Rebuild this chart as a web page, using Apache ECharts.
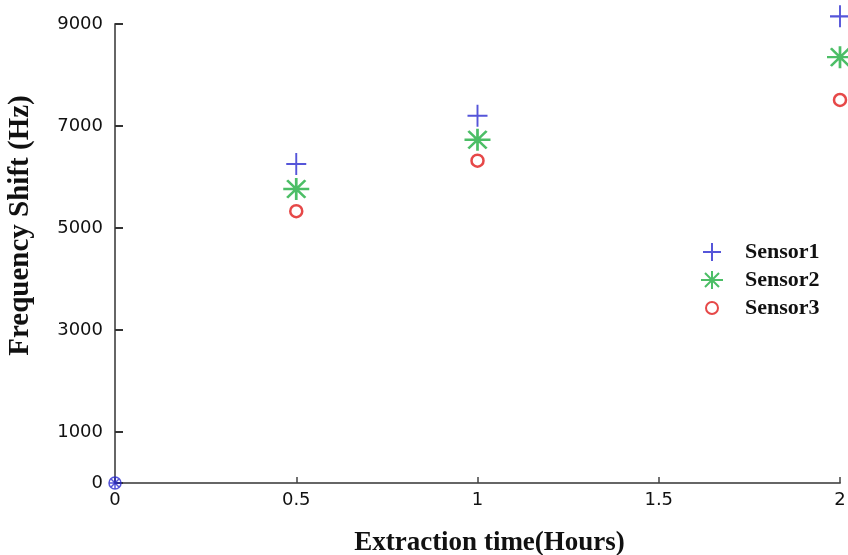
<!DOCTYPE html>
<html>
<head>
<meta charset="utf-8">
<script src="https://cdn.jsdelivr.net/npm/echarts@6/dist/echarts.min.js"></script>
<style>html,body{margin:0;padding:0;background:#fff}#c{width:848px;height:555px}</style>
</head>
<body>
<div id="c"></div>
<script>
var xValues = [0.5, 1, 2];
var sensor1 = [6255, 7200, 9150];
var sensor2 = [5765, 6730, 8350];
var sensor3 = [5330, 6320, 7510];
var origin = [[0, 0]];
var xTicks = [0, 0.5, 1, 1.5, 2];
var yTicks = [0, 1000, 3000, 5000, 7000, 9000];
var seriesNames = ['Sensor1', 'Sensor2', 'Sensor3'];

var PLUS = 'path://M10,0L10,20M0,10L20,10';
var AST = 'path://M0,10L20,10M10,0L10,20M3,2L17,18M3,18L17,2';
var CIRC = 'circle';
var L_PLUS = 'path://M0,0M24,20M12,1L12,19M3,10L21,10';
var L_AST = 'path://M0,0M24,20M1,10L23,10M12,1L12,19M5,3L19,17M5,17L19,3';
var L_CIRC = 'path://M0,0M24,20M18,10A6,6,0,1,1,6,10A6,6,0,1,1,18,10Z';
var BLUE = '#2b2bd0', GREEN = '#1fae40', RED = '#e01a1a';

function pts(v){ return xValues.map(function(x,i){ return [x, v[i]]; }); }

var chart = echarts.init(document.getElementById('c'));
chart.setOption({
  animation: false,
  backgroundColor: '#fff',
  grid: { left: 115, right: 8, top: 24, bottom: 72, containLabel: false, outerBoundsMode: 'none' },
  xAxis: {
    type: 'value', min: 0, max: 2, interval: 0.5,
    name: 'Extraction time(Hours)', nameLocation: 'middle', nameGap: 47,
    nameTextStyle: { fontFamily: 'Liberation Serif', fontWeight: 'bold', fontSize: 27, color: '#111', padding: [0,0,0,24] },
    axisLine: { show: true, lineStyle: { color: '#666', width: 2 } },
    axisTick: { show: true, inside: true, length: 6, lineStyle: { color: '#444', width: 1.5 }, customValues: xTicks },
    axisLabel: { color: '#111', fontFamily: 'DejaVu Sans', fontSize: 18, margin: 8, customValues: xTicks,
      formatter: function(v){ return String(v); } },
    splitLine: { show: false }
  },
  yAxis: {
    type: 'value', min: 0, max: 9000, interval: 1000,
    name: 'Frequency Shift (Hz)', nameLocation: 'middle', nameGap: 80, nameRotate: 90,
    nameTextStyle: { fontFamily: 'Liberation Serif', fontWeight: 'bold', fontSize: 29, color: '#111', padding: [0,0,0,56] },
    axisLine: { show: true, lineStyle: { color: '#666', width: 2 } },
    axisTick: { show: true, inside: true, length: 8, lineStyle: { color: '#333', width: 2 }, customValues: yTicks },
    axisLabel: { color: '#111', fontFamily: 'DejaVu Sans', fontSize: 18, margin: 12, customValues: yTicks,
      formatter: function(v){ return String(v); } },
    splitLine: { show: false }
  },
  legend: {
    orient: 'vertical', left: 694, top: 236, itemWidth: 24, itemHeight: 20, itemGap: 6,
    data: [
      { name: seriesNames[0], icon: L_PLUS },
      { name: seriesNames[1], icon: L_AST },
      { name: seriesNames[2], icon: L_CIRC }
    ],
    textStyle: { fontFamily: 'Liberation Serif', fontWeight: 'bold', fontSize: 22, color: '#111', padding: [0,0,0,16] }
  },
  series: [
    { name: seriesNames[0], type: 'scatter', clip: false, symbol: PLUS, symbolSize: [20, 22],
      itemStyle: { color: 'transparent', borderColor: BLUE, borderWidth: 2 }, data: pts(sensor1) },
    { name: seriesNames[1], type: 'scatter', clip: false, symbol: AST, symbolSize: [26, 22],
      itemStyle: { color: 'transparent', borderColor: GREEN, borderWidth: 2.5 }, data: pts(sensor2) },
    { name: seriesNames[2], type: 'scatter', clip: false, symbol: CIRC, symbolSize: 12,
      itemStyle: { color: 'transparent', borderColor: RED, borderWidth: 2.5 }, data: pts(sensor3) },
    { name: 'origin', type: 'scatter', clip: false, symbol: 'path://M0,5A5,5,0,1,1,10,5A5,5,0,1,1,0,5ZM1.5,1.5L8.5,8.5M1.5,8.5L8.5,1.5M0,5L10,5M5,0L5,10', symbolSize: 12,
      z: 5, itemStyle: { color: 'transparent', borderColor: BLUE, borderWidth: 1.5 }, data: origin }
  ]
});
</script>
</body>
</html>
